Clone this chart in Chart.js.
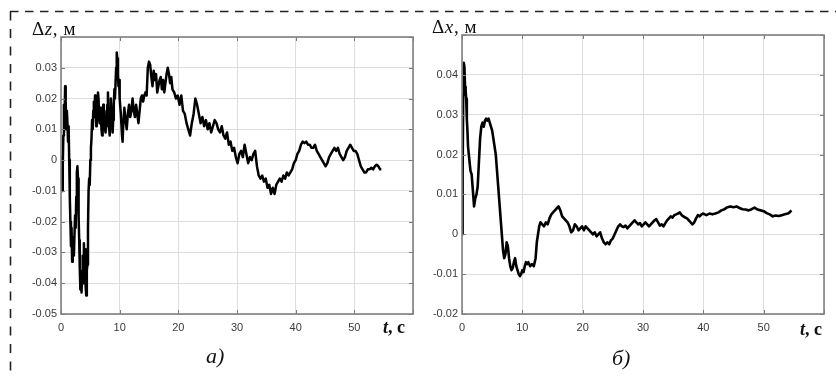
<!DOCTYPE html>
<html>
<head>
<meta charset="utf-8">
<script src="https://cdn.jsdelivr.net/npm/chart.js@4"></script>
<style>
  html, body { margin: 0; padding: 0; background: #fff; }
  #wrap { position: relative; width: 836px; height: 376px; overflow: hidden; background: #fff; }
  canvas { position: absolute; top: 0; }
  #cz { left: 0; }
  #cx { left: 420px; }
  svg { position: absolute; left: 0; top: 0; pointer-events: none; }
</style>
</head>
<body>
<div id="wrap">
  <canvas id="cz" width="420" height="376"></canvas>
  <canvas id="cx" width="416" height="376"></canvas>
  <svg width="836" height="376" xmlns="http://www.w3.org/2000/svg">
    <!-- dashed outer frame -->
    <line x1="10" y1="11.5" x2="836" y2="11.5" stroke="#222" stroke-width="1.6" stroke-dasharray="8.5 6.5"/>
    <line x1="10.5" y1="11.5" x2="10.5" y2="376" stroke="#222" stroke-width="1.6" stroke-dasharray="9 8.5"/>
    <!-- axis captions -->
    <g font-family="'Liberation Serif', 'Times New Roman', serif" fill="#111">
      <text x="32" y="35" font-size="19" letter-spacing="0.6">Δ<tspan font-style="italic">z</tspan>, м</text>
      <text x="432" y="33" font-size="19" letter-spacing="0.6">Δ<tspan font-style="italic">x</tspan>, м</text>
      <text x="383" y="333" font-size="18" font-weight="bold"><tspan font-style="italic">t</tspan>, с</text>
      <text x="800" y="335" font-size="18" font-weight="bold"><tspan font-style="italic">t</tspan>, с</text>
      <text x="206" y="363" font-size="22" font-style="italic">а)</text>
      <text x="612" y="365" font-size="22" font-style="italic">б)</text>
    </g>
  </svg>
</div>
<script>
// Panel (а): vertical deviation Δz, m, versus time t, s
const tZ = [
  0.0, 0.1, 0.2, 0.3, 0.4, 0.5, 0.6, 0.7, 0.8, 0.9,
  1.0, 1.1, 1.2, 1.3, 1.4, 1.5, 1.6, 1.7, 1.8, 1.9,
  2.0, 2.1, 2.2, 2.3, 2.4, 2.5, 2.6, 2.7, 2.8, 2.9,
  3.0, 3.1, 3.2, 3.3, 3.4, 3.5, 3.6, 3.7, 3.8, 3.9,
  4.0, 4.1, 4.2, 4.3, 4.4, 4.5, 4.6, 4.7, 4.8, 4.9,
  5.0, 5.1, 5.2, 5.3, 5.4, 5.5, 5.6, 5.7, 5.8, 5.9,
  6.0, 6.1, 6.2, 6.3, 6.4, 6.5, 6.6, 6.7, 6.8, 6.9,
  7.0, 7.1, 7.2, 7.3, 7.4, 7.5, 7.6, 7.7, 7.8, 7.9,
  8.0, 8.1, 8.2, 8.3, 8.4, 8.5, 8.6, 8.7, 8.8, 8.9,
  9.0, 9.1, 9.2, 9.3, 9.4, 9.5, 9.6, 9.7, 9.8, 9.9,
  10.0, 10.2, 10.4, 10.5, 10.6, 10.8, 11.0, 11.2, 11.4, 11.6,
  11.8, 12.0, 12.2, 12.4, 12.6, 12.8, 13.0, 13.2, 13.4, 13.6,
  13.8, 14.0, 14.2, 14.4, 14.6, 14.8, 15.0, 15.2, 15.4, 15.6,
  15.8, 16.0, 16.2, 16.4, 16.6, 16.8, 17.0, 17.2, 17.4, 17.6,
  17.8, 18.0, 18.2, 18.4, 18.6, 18.8, 19.0, 19.3, 19.6, 19.9,
  20.2, 20.5, 20.8, 21.1, 21.4, 21.7, 22.0, 22.3, 22.6, 22.9,
  23.2, 23.5, 23.8, 24.1, 24.4, 24.7, 25.0, 25.3, 25.6, 25.9,
  26.2, 26.5, 26.8, 27.1, 27.4, 27.7, 28.0, 28.3, 28.6, 28.9,
  29.2, 29.5, 29.8, 30.1, 30.4, 30.7, 31.0, 31.3, 31.6, 31.9,
  32.2, 32.5, 32.8, 33.1, 33.4, 33.7, 34.0, 34.3, 34.6, 34.9,
  35.2, 35.5, 35.8, 36.1, 36.4, 36.7, 37.0, 37.3, 37.6, 37.9,
  38.2, 38.5, 38.8, 39.1, 39.4, 39.7, 40.0, 40.3, 40.6, 40.9,
  41.2, 41.5, 41.8, 42.1, 42.4, 42.7, 43.0, 43.3, 43.6, 43.9,
  44.2, 44.5, 44.8, 45.1, 45.4, 45.7, 46.0, 46.3, 46.6, 46.9,
  47.2, 47.5, 47.8, 48.1, 48.4, 48.7, 49.0, 49.3, 49.6, 49.9,
  50.2, 50.5, 50.8, 51.1, 51.4, 51.7, 52.0, 52.3, 52.6, 52.9,
  53.2, 53.5, 53.8, 54.1, 54.4, 54.6
];
const dZ = [
  0.001, -0.004, -0.010, -0.002, 0.008, 0.018, 0.012, 0.024, 0.019, 0.010,
  0.016, 0.012, 0.006, 0.011, 0.000, -0.012, -0.020, -0.028, -0.022, -0.033,
  -0.030, -0.025, -0.031, -0.024, -0.018, -0.022, -0.012, -0.004, -0.002, -0.006,
  -0.018, -0.026, -0.035, -0.042, -0.036, -0.043, -0.038, -0.031, -0.040, -0.027,
  -0.034, -0.029, -0.041, -0.044, -0.036, -0.034, -0.022, -0.010, -0.006, -0.008,
  0.000, 0.004, 0.007, 0.013, 0.010, 0.016, 0.019, 0.014, 0.021, 0.017,
  0.011, 0.019, 0.015, 0.022, 0.020, 0.013, 0.012, 0.017, 0.015, 0.010,
  0.008, 0.014, 0.018, 0.012, 0.016, 0.010, 0.009, 0.014, 0.011, 0.018,
  0.022, 0.015, 0.010, 0.008, 0.014, 0.020, 0.016, 0.012, 0.009, 0.013,
  0.018, 0.023, 0.020, 0.025, 0.030, 0.035, 0.033, 0.028, 0.024, 0.026,
  0.020, 0.015, 0.008, 0.006, 0.011, 0.017, 0.013, 0.010, 0.015, 0.018,
  0.014, 0.016, 0.020, 0.016, 0.014, 0.018, 0.015, 0.012, 0.016, 0.020,
  0.021, 0.019, 0.021, 0.022, 0.021, 0.030, 0.032, 0.031, 0.027, 0.024,
  0.029, 0.026, 0.028, 0.022, 0.024, 0.026, 0.027, 0.023, 0.026, 0.022,
  0.025, 0.028, 0.030, 0.028, 0.025, 0.027, 0.023, 0.022, 0.020, 0.021,
  0.018, 0.021, 0.016, 0.015, 0.012, 0.010, 0.008, 0.012, 0.015, 0.020,
  0.018, 0.015, 0.012, 0.014, 0.011, 0.013, 0.010, 0.012, 0.009, 0.011,
  0.013, 0.012, 0.010, 0.009, 0.011, 0.008, 0.007, 0.009, 0.005, 0.006,
  0.003, 0.004, 0.001, -0.001, 0.002, 0.003, 0.001, 0.005, 0.002, -0.001,
  0.001, 0.000, 0.002, 0.003, -0.002, -0.005, -0.006, -0.005, -0.007, -0.006,
  -0.009, -0.008, -0.011, -0.009, -0.011, -0.008, -0.007, -0.006, -0.007, -0.005,
  -0.006, -0.004, -0.005, -0.004, -0.003, -0.001, 0.000, 0.002, 0.003, 0.005,
  0.006, 0.0055, 0.006, 0.005, 0.005, 0.004, 0.004, 0.005, 0.003, 0.002,
  0.001, 0.000, -0.001, -0.002, -0.001, 0.001, 0.002, 0.003, 0.004, 0.003,
  0.004, 0.002, 0.001, 0.000, 0.001, 0.003, 0.004, 0.005, 0.004, 0.003,
  0.003, 0.002, 0.000, -0.002, -0.003, -0.004, -0.004, -0.003, -0.003, -0.0025,
  -0.003, -0.002, -0.0015, -0.002, -0.003, -0.003
];

// Panel (б): horizontal deviation Δx, m, versus time t, s
const tX = [
  0.0, 0.1, 0.2, 0.3, 0.4, 0.5, 0.6, 0.7, 0.8, 0.9,
  1.0, 1.2, 1.4, 1.6, 1.8, 2.0, 2.2, 2.4, 2.6, 2.8,
  3.0, 3.2, 3.4, 3.6, 3.8, 4.0, 4.2, 4.4, 4.6, 4.8,
  5.0, 5.2, 5.4, 5.6, 5.8, 6.0, 6.2, 6.4, 6.6, 6.8,
  7.0, 7.2, 7.4, 7.6, 7.8, 8.0, 8.2, 8.4, 8.6, 8.8,
  9.0, 9.2, 9.4, 9.6, 9.8, 10.0, 10.2, 10.4, 10.6, 10.8,
  11.0, 11.3, 11.6, 11.9, 12.2, 12.4, 12.6, 12.8, 13.0, 13.3,
  13.6, 13.9, 14.2, 14.5, 14.8, 15.1, 15.4, 15.7, 16.0, 16.3,
  16.6, 16.9, 17.2, 17.5, 17.8, 18.1, 18.4, 18.7, 19.0, 19.3,
  19.6, 19.9, 20.2, 20.5, 20.8, 21.1, 21.4, 21.7, 22.0, 22.3,
  22.6, 22.9, 23.2, 23.5, 23.8, 24.1, 24.4, 24.7, 25.0, 25.3,
  25.6, 25.9, 26.2, 26.5, 26.8, 27.1, 27.4, 27.7, 28.0, 28.3,
  28.6, 28.9, 29.2, 29.5, 29.8, 30.1, 30.4, 30.7, 31.0, 31.3,
  31.6, 31.9, 32.2, 32.5, 32.8, 33.1, 33.4, 33.7, 34.0, 34.3,
  34.6, 34.9, 35.2, 35.5, 35.8, 36.1, 36.4, 36.7, 37.0, 37.3,
  37.6, 37.9, 38.2, 38.5, 38.8, 39.1, 39.4, 39.7, 40.0, 40.5,
  41.0, 41.5, 42.0, 42.5, 43.0, 43.5, 44.0, 44.5, 45.0, 45.5,
  46.0, 46.5, 47.0, 47.5, 48.0, 48.5, 49.0, 49.5, 50.0, 50.5,
  51.0, 51.5, 52.0, 52.5, 53.0, 53.5, 54.0, 54.3, 54.6
];
const dX = [
  0.000, 0.015, 0.035, 0.043, 0.042, 0.037, 0.036, 0.034, 0.029, 0.026,
  0.022, 0.019, 0.016, 0.015, 0.011, 0.007, 0.009, 0.010, 0.012, 0.018,
  0.024, 0.027, 0.028, 0.027, 0.0285, 0.029, 0.0285, 0.029, 0.028, 0.027,
  0.026, 0.024, 0.022, 0.020, 0.016, 0.012, 0.008, 0.004, 0.000, -0.004,
  -0.006, -0.005, -0.002, -0.003, -0.006, -0.008, -0.009, -0.0085, -0.007, -0.006,
  -0.008, -0.009, -0.010, -0.0105, -0.010, -0.009, -0.0095, -0.008, -0.007, -0.0075,
  -0.007, -0.008, -0.0075, -0.008, -0.006, -0.002, 0.000, 0.002, 0.003, 0.0025,
  0.002, 0.003, 0.0025, 0.004, 0.005, 0.0055, 0.006, 0.0065, 0.007, 0.006,
  0.0045, 0.004, 0.0035, 0.003, 0.002, 0.0005, 0.001, 0.0025, 0.002, 0.001,
  0.0015, 0.002, 0.001, 0.002, 0.0015, 0.001, 0.0005, 0.000, 0.0005, -0.0005,
  0.000, 0.0005, -0.001, -0.002, -0.0025, -0.002, -0.0025, -0.0015, -0.001, 0.000,
  0.001, 0.002, 0.0025, 0.002, 0.0018, 0.0022, 0.0015, 0.002, 0.0025, 0.003,
  0.0035, 0.003, 0.0025, 0.0028, 0.002, 0.0025, 0.003, 0.0025, 0.002, 0.0025,
  0.003, 0.0035, 0.0038, 0.003, 0.0022, 0.0025, 0.002, 0.0028, 0.0035, 0.004,
  0.0045, 0.0042, 0.0048, 0.005, 0.0052, 0.0055, 0.0048, 0.0045, 0.0042, 0.004,
  0.0035, 0.003, 0.0025, 0.003, 0.004, 0.0048, 0.0045, 0.005, 0.0052, 0.0048,
  0.0052, 0.005, 0.0052, 0.0055, 0.006, 0.0063, 0.0068, 0.007, 0.0068, 0.007,
  0.0066, 0.0063, 0.0062, 0.006, 0.0063, 0.0067, 0.0062, 0.006, 0.0058, 0.0053,
  0.005, 0.0045, 0.0047, 0.0046, 0.0048, 0.005, 0.0052, 0.0055, 0.006
];

// Shared axis settings
const tMax = 60;
const tStep = 10;
const zRange = [-0.05, 0.04];
const xRange = [-0.02, 0.05];

Chart.defaults.font.family = "'Liberation Sans', Arial, sans-serif";
Chart.defaults.font.size = 11;
Chart.defaults.color = '#3a3a3a';

const fmtY = v => {
  const r = Math.round(v * 100) / 100;
  return r === 0 ? '0' : r.toFixed(2);
};

// Gray box around the plot area with short inward ticks on all four sides
const boxPlugin = {
  id: 'box',
  afterDatasetsDraw(chart) {
    const { ctx, chartArea: a, scales: { x, y } } = chart;
    ctx.save();
    ctx.strokeStyle = '#7a7a7a';
    ctx.lineWidth = 1;
    ctx.beginPath();
    x.ticks.forEach(t => {
      const px = Math.round(x.getPixelForValue(t.value)) + 0.5;
      ctx.moveTo(px, a.bottom); ctx.lineTo(px, a.bottom - 4);
      ctx.moveTo(px, a.top); ctx.lineTo(px, a.top + 4);
    });
    y.ticks.forEach(t => {
      const py = Math.round(y.getPixelForValue(t.value)) + 0.5;
      ctx.moveTo(a.left, py); ctx.lineTo(a.left + 4, py);
      ctx.moveTo(a.right, py); ctx.lineTo(a.right - 4, py);
    });
    ctx.stroke();
    ctx.lineWidth = 1.6;
    ctx.strokeStyle = '#808080';
    ctx.strokeRect(a.left, a.top, a.right - a.left, a.bottom - a.top);
    ctx.restore();
  }
};

function makePanel(id, times, values, range, pad, yWidth, lineWidth) {
  const top = range[1];
  return new Chart(document.getElementById(id), {
    type: 'line',
    data: {
      datasets: [{
        data: times.map((t, i) => ({ x: t, y: values[i] })),
        borderColor: '#000',
        borderWidth: lineWidth,
        borderJoinStyle: 'round',
        pointRadius: 0,
        tension: 0,
        fill: false
      }]
    },
    options: {
      responsive: false,
      animation: false,
      devicePixelRatio: 1,
      layout: { padding: pad },
      plugins: { legend: { display: false }, tooltip: { enabled: false } },
      scales: {
        x: {
          type: 'linear',
          min: 0,
          max: tMax,
          afterFit: s => { s.height = 24; },
          grid: { color: '#dedede', lineWidth: 1, drawTicks: false },
          border: { display: false },
          ticks: {
            stepSize: tStep,
            padding: 7,
            callback: v => (v === tMax ? '' : String(v))
          }
        },
        y: {
          type: 'linear',
          min: range[0],
          max: top,
          afterFit: s => { s.width = yWidth; },
          grid: { color: '#dedede', lineWidth: 1, drawTicks: false },
          border: { display: false },
          ticks: {
            stepSize: 0.01,
            padding: 4,
            callback: v => (Math.abs(v - top) < 1e-9 ? '' : fmtY(v))
          }
        }
      }
    },
    plugins: [boxPlugin]
  });
}

makePanel('cz', tZ, dZ, zRange, { left: 17, top: 37, right: 7, bottom: 38 }, 44, 2.5);
makePanel('cx', tX, dX, xRange, { left: 6, top: 35, right: 12, bottom: 38 }, 36, 2.6);
</script>
</body>
</html>
